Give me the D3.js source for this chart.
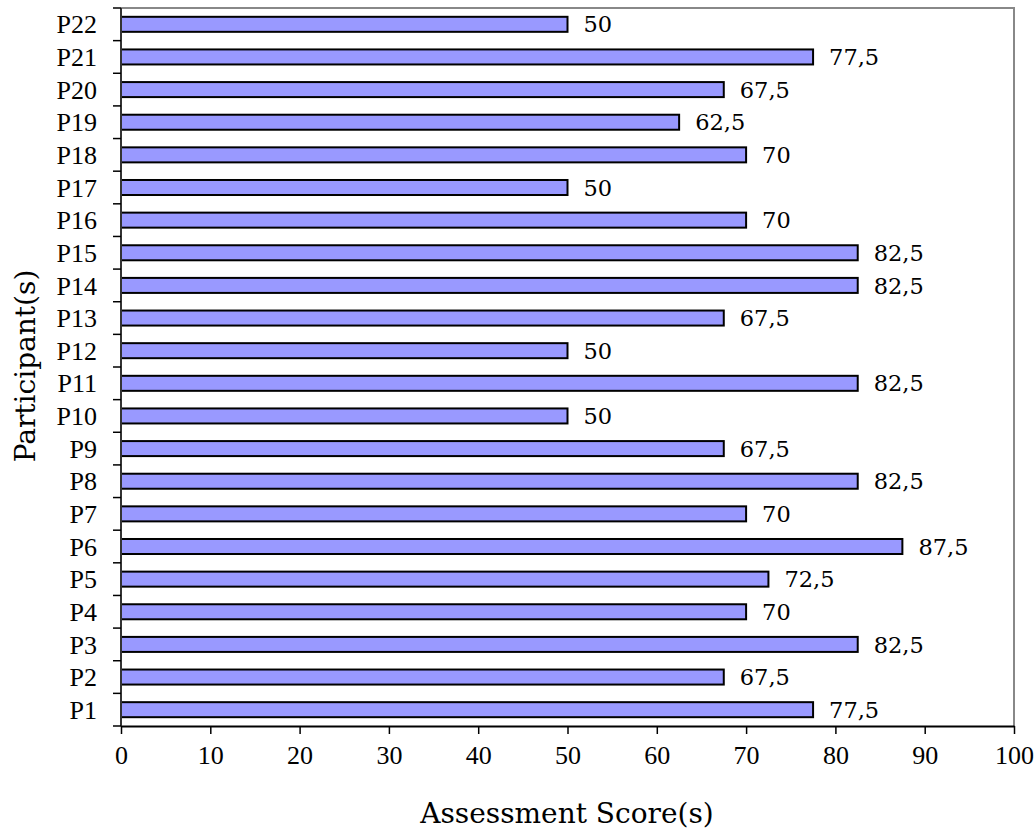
<!DOCTYPE html>
<html><head><meta charset="utf-8">
<script src="https://cdn.jsdelivr.net/npm/d3@7"></script>
<style>body{margin:0;background:#fff}</style>
</head><body>
<script>
const participants = ["P1","P2","P3","P4","P5","P6","P7","P8","P9","P10","P11","P12","P13","P14","P15","P16","P17","P18","P19","P20","P21","P22"];
const scores = [77.5,67.5,82.5,70,72.5,87.5,70,82.5,67.5,50,82.5,50,67.5,82.5,82.5,70,50,70,62.5,67.5,77.5,50];
const xTicks = [0,10,20,30,40,50,60,70,80,90,100];

const W = 1035, H = 831;
const m = {left:121, top:8, right:1014, bottom:726};
const svg = d3.select("body").append("svg").attr("width",W).attr("height",H);

const x = d3.scaleLinear().domain([0,100]).range([m.left,m.right]);
const y = d3.scaleBand().domain(participants.slice().reverse()).range([m.top,m.bottom]).paddingInner(0.54).paddingOuter(0.27);
const yb = d3.scaleBand().domain(participants.slice().reverse()).range([m.top,m.bottom]);

// frame top/right
svg.append("path").attr("d",`M${m.left},${m.top}H${m.right}V${m.bottom}`).attr("fill","none").attr("stroke","#888").attr("stroke-width",2);

// bars
svg.selectAll("rect.bar").data(participants).enter().append("rect")
  .attr("x",x(0)).attr("y",d=>y(d)).attr("height",y.bandwidth())
  .attr("width",(d,i)=>x(scores[i])-x(0))
  .attr("fill","#9999ff").attr("stroke","#000").attr("stroke-width",2);

// value labels
svg.selectAll("text.val").data(participants).enter().append("text")
  .attr("x",(d,i)=>x(scores[i])+16).attr("y",d=>y(d)+y.bandwidth()/2)
  .attr("dy","0.36em")
  .attr("font-family","DejaVu Serif").attr("font-size",22.5).attr("fill","#000")
  .text((d,i)=>String(scores[i]).replace(".",","));

// y axis
const yAxis = svg.append("g");
yAxis.append("line").attr("x1",m.left).attr("x2",m.left).attr("y1",m.top).attr("y2",m.bottom).attr("stroke","#333").attr("stroke-width",2);
const bounds = participants.map(p=>yb(p)).concat([m.bottom]);
yAxis.selectAll("line.t").data(bounds).enter().append("line")
  .attr("x1",m.left-8).attr("x2",m.left).attr("y1",d=>d).attr("y2",d=>d).attr("stroke","#000").attr("stroke-width",1.5);
yAxis.selectAll("text").data(participants).enter().append("text")
  .attr("x",97).attr("y",d=>yb(d)+yb.bandwidth()/2).attr("dy","0.35em")
  .attr("text-anchor","end").attr("font-family","Liberation Serif").attr("font-size",26).text(d=>d);

// x axis
const xAxis = svg.append("g").attr("transform",`translate(0,${m.bottom})`)
  .call(d3.axisBottom(x).tickValues(xTicks).tickSize(8).tickSizeOuter(0).tickPadding(12));
xAxis.select(".domain").attr("stroke","#000").attr("stroke-width",2);
xAxis.selectAll(".tick line").attr("stroke","#000").attr("stroke-width",1.5);
xAxis.selectAll(".tick text").attr("font-family","Liberation Serif").attr("font-size",26).attr("fill","#000");

// titles
svg.append("text").attr("x",567).attr("y",823).attr("text-anchor","middle")
  .attr("font-family","DejaVu Serif").attr("font-size",28).text("Assessment Score(s)");
svg.append("text").attr("transform","translate(35,366) rotate(-90)").attr("text-anchor","middle")
  .attr("font-family","DejaVu Serif").attr("font-size",28).text("Participant(s)");
</script>
</body></html>
